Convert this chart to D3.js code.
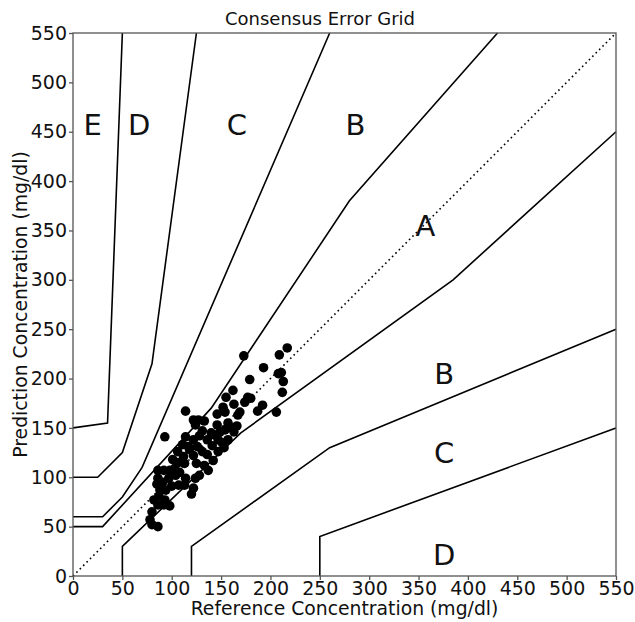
<!DOCTYPE html>
<html>
<head>
<meta charset="utf-8">
<script src="https://cdn.jsdelivr.net/npm/d3@7"></script>
<style>
  body { margin: 0; background: #fff; }
  text { font-family: "DejaVu Sans", sans-serif; }
</style>
</head>
<body>
<svg id="chart" width="635" height="622"></svg>
<script>
// zone boundaries (reference, prediction)
const zoneLines = [
  [[0, 50], [30, 50], [140, 170], [280, 380], [430, 550]],
  [[0, 60], [30, 60], [50, 80], [70, 110], [260, 550]],
  [[0, 100], [25, 100], [50, 125], [80, 215], [125, 550]],
  [[0, 150], [35, 155], [50, 550]],
  [[50, 0], [50, 30], [170, 145], [385, 300], [550, 450]],
  [[120, 0], [120, 30], [260, 130], [550, 250]],
  [[250, 0], [250, 40], [550, 150]]
];
const zoneLabels = ["E", "D", "C", "B", "A", "B", "C", "D"];
const labelX = [20, 67, 166, 286, 357, 376, 376, 376];
const labelY = [457, 457, 457, 457, 355, 205, 125, 21];
const ticks = [0, 50, 100, 150, 200, 250, 300, 350, 400, 450, 500, 550];

// measurements
const refValues = [173, 217, 209, 208, 213, 212, 206, 193, 179, 162, 192, 187, 163, 169, 155, 152, 154, 146, 146, 157,
  161, 149, 143, 147, 151, 141, 136, 131, 133, 127, 124, 114, 114, 122, 126, 117, 111, 106, 112, 122,
  131, 136, 125, 133, 113, 107, 101, 103, 108, 114, 124, 122, 120, 113, 107, 100, 93, 92, 86, 86,
  91, 97, 94, 88, 85, 87, 93, 92, 98, 86, 82, 80, 78, 80, 86, 98, 104, 128, 137, 142,
  147, 153, 157, 163, 166, 167, 174, 122, 177, 180, 211, 154, 140, 118, 128];
const predValues = [223, 231, 224, 205, 197, 186, 166, 211, 199, 188, 173, 167, 174, 166, 181, 171, 166, 164, 153, 155,
  150, 146, 143, 138, 135, 132, 138, 147, 157, 158, 153, 167, 141, 138, 131, 131, 133, 126, 121, 122,
  126, 123, 114, 112, 114, 115, 118, 109, 105, 99, 99, 89, 83, 92, 92, 91, 141, 107, 107, 99,
  95, 99, 87, 87, 93, 81, 77, 72, 71, 72, 77, 65, 57, 52, 50, 107, 102, 102, 107, 117,
  126, 130, 138, 146, 152, 163, 176, 158, 181, 180, 206, 148, 145, 128, 142];
const points = refValues.map((r, i) => [r, predValues[i]]);

const margin = { left: 73, top: 33 };
const size = 543;
const svg = d3.select("#chart");

const x = d3.scaleLinear().domain([0, 550]).range([0, size]);
const y = d3.scaleLinear().domain([0, 550]).range([size, 0]);

const g = svg.append("g")
  .attr("transform", "translate(" + margin.left + "," + margin.top + ")");

// identity line
g.append("line")
  .attr("x1", x(0)).attr("y1", y(0))
  .attr("x2", x(550)).attr("y2", y(550))
  .attr("stroke", "#000")
  .attr("stroke-width", 1.6)
  .attr("stroke-dasharray", "1.6,3.2");

const line = d3.line().x(d => x(d[0])).y(d => y(d[1]));
g.selectAll(".zone")
  .data(zoneLines)
  .join("path")
  .attr("class", "zone")
  .attr("d", line)
  .attr("fill", "none")
  .attr("stroke", "#000")
  .attr("stroke-width", 1.6);

g.selectAll(".dot")
  .data(points)
  .join("circle")
  .attr("class", "dot")
  .attr("cx", d => x(d[0]))
  .attr("cy", d => y(d[1]))
  .attr("r", 4.8)
  .attr("fill", "#000");

g.selectAll(".zlabel")
  .data(zoneLabels)
  .join("text")
  .attr("class", "zlabel")
  .attr("x", (d, i) => x(labelX[i]))
  .attr("y", (d, i) => y(labelY[i]))
  .attr("text-anchor", "middle")
  .attr("dominant-baseline", "central")
  .attr("font-size", 29)
  .attr("fill", "#111")
  .text(d => d);

// frame
g.append("rect")
  .attr("width", size).attr("height", size)
  .attr("fill", "none")
  .attr("stroke", "#555")
  .attr("stroke-width", 1.3);

const xAxis = g.append("g")
  .attr("transform", "translate(0," + size + ")")
  .call(d3.axisBottom(x).tickValues(ticks).tickSize(4).tickPadding(2));
const yAxis = g.append("g")
  .call(d3.axisLeft(y).tickValues(ticks).tickSize(4).tickPadding(2));
[xAxis, yAxis].forEach(a => {
  a.select(".domain").remove();
  a.selectAll("line").attr("stroke", "#555").attr("stroke-width", 1.3);
  a.selectAll("text")
    .attr("font-family", "DejaVu Sans, sans-serif")
    .attr("font-size", 19)
    .attr("fill", "#111");
});

svg.append("text")
  .attr("x", 320)
  .attr("y", 25)
  .attr("text-anchor", "middle")
  .attr("font-size", 18)
  .attr("fill", "#111")
  .text("Consensus Error Grid");

svg.append("text")
  .attr("x", margin.left + size / 2)
  .attr("y", 615)
  .attr("text-anchor", "middle")
  .attr("font-size", 18.8)
  .attr("fill", "#111")
  .text("Reference Concentration (mg/dl)");

svg.append("text")
  .attr("transform", "translate(27," + (margin.top + size / 2) + ") rotate(-90)")
  .attr("text-anchor", "middle")
  .attr("font-size", 18.8)
  .attr("fill", "#111")
  .text("Prediction Concentration (mg/dl)");
</script>
</body>
</html>
